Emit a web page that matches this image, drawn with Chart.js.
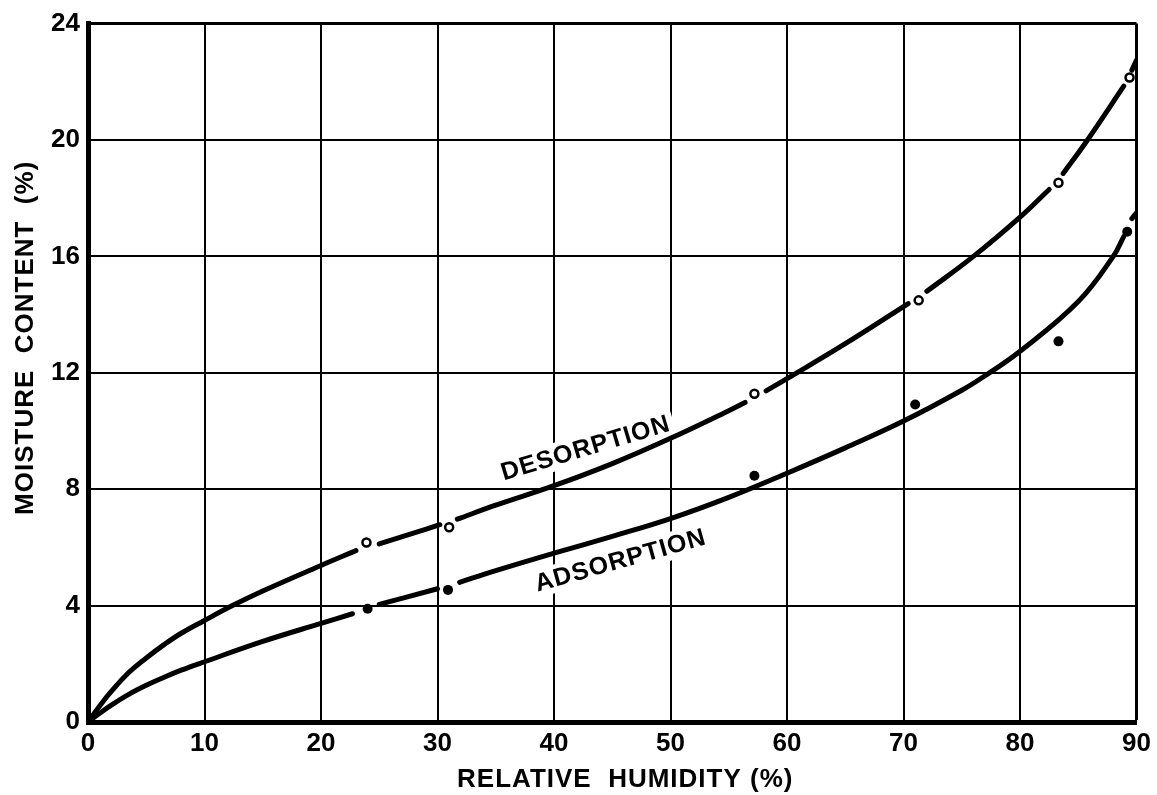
<!DOCTYPE html>
<html>
<head>
<meta charset="utf-8">
<style>
  html, body { margin: 0; padding: 0; background: #fff; }
  canvas { display: block; }
</style>
</head>
<body>
<canvas id="myChart" width="1157" height="795"></canvas>
<script src="https://cdn.jsdelivr.net/npm/chart.js"></script>
<script>
// tick labels
var rhTicks = [0, 10, 20, 30, 40, 50, 60, 70, 80, 90];
var mcTicks = [0, 4, 8, 12, 16, 20, 24];

// measured points (open = desorption, filled = adsorption)
var desorptionRH = [23.9, 31.0, 57.2, 71.3, 83.3, 89.4];
var desorptionMC = [6.17, 6.69, 11.28, 14.49, 18.53, 22.15];
var adsorptionRH = [24.0, 30.9, 57.2, 71.0, 83.3, 89.2];
var adsorptionMC = [3.89, 4.54, 8.46, 10.91, 13.08, 16.85];

// hand drawn curves, null = the pen lifts around a point
var desorptionCurveRH = [0, 1, 2, 3.5, 5, 6.5, 8, 10, 12.4, 15, 20, 23.0, 23.9, 25, 28, 30.2, 31.0, 31.7, 35, 40, 45, 50, 55, 56.4, 57.2, 58.2, 60, 65, 70.4, 71.3, 72, 76, 80, 82.5, 83.3, 83.7, 85.7, 88.9, 89.4, 89.6, 90];
var desorptionCurveMC = [0, 0.55, 1.05, 1.7, 2.2, 2.65, 3.05, 3.49, 4.0, 4.5, 5.38, 5.89, null, 6.12, 6.5, 6.78, null, 6.97, 7.45, 8.12, 8.88, 9.75, 10.7, 10.98, null, 11.38, 11.8, 13.0, 14.38, null, 14.8, 16.0, 17.35, 18.3, null, 18.85, 19.95, 21.85, null, 22.4, 22.75];
var adsorptionCurveRH = [0, 1, 2, 3.5, 5, 6.5, 8, 10, 15, 20, 22.7, 24.0, 25, 30, 30.9, 31.9, 35, 40, 45, 50, 55, 60, 65, 70, 75, 77, 80, 85, 88, 88.9, 89.2, 89.6, 90];
var adsorptionCurveMC = [0, 0.3, 0.58, 0.95, 1.26, 1.53, 1.78, 2.07, 2.77, 3.39, 3.72, null, 4.04, 4.58, null, 4.8, 5.2, 5.8, 6.38, 6.99, 7.72, 8.55, 9.42, 10.34, 11.4, 11.9, 12.74, 14.45, 16.0, 16.68, null, 17.3, 17.5];

function toXY(xs, ys) {
  return xs.map((x, i) => ({ x: x, y: ys[i] }));
}

// cut a curve into pieces at the nulls
function pieces(xs, ys) {
  var out = [];
  var cur = [];
  xs.forEach((x, i) => {
    if (ys[i] === null) {
      if (cur.length) out.push(cur);
      cur = [];
    } else {
      cur.push({ x: x, y: ys[i] });
    }
  });
  if (cur.length) out.push(cur);
  return out;
}

var FONT = "'Liberation Sans', Arial, sans-serif";
Chart.defaults.color = "#000";

var lettering = {
  id: "lettering",
  beforeDatasetsDraw(chart) {
    var ctx = chart.ctx;
    var xs = chart.scales.x, ys = chart.scales.y;
    var labels = [
      { text: "DESORPTION", rh: 42.7, mc: 9.42, angle: -16.6 },
      { text: "ADSORPTION", rh: 45.7, mc: 5.56, angle: -15.7 }
    ];
    ctx.save();
    ctx.font = "bold 25px " + FONT;
    ctx.letterSpacing = "1px";
    labels.forEach((l) => {
      ctx.save();
      ctx.translate(xs.getPixelForValue(l.rh), ys.getPixelForValue(l.mc));
      ctx.rotate(l.angle * Math.PI / 180);
      var w = ctx.measureText(l.text).width;
      ctx.fillStyle = "#fff";
      ctx.fillRect(-w / 2 - 4, -14, w + 8, 28);
      ctx.fillStyle = "#000";
      ctx.textAlign = "center";
      ctx.textBaseline = "middle";
      ctx.fillText(l.text, 0, 1);
      ctx.restore();
    });
    ctx.restore();
  },
  afterDraw(chart) {
    var ctx = chart.ctx;
    var area = chart.chartArea;
    ctx.save();
    ctx.fillStyle = "#000";
    ctx.font = "bold 26px " + FONT;
    ctx.letterSpacing = "1px";
    ctx.textAlign = "center";
    ctx.textBaseline = "middle";
    ctx.fillText("RELATIVE  HUMIDITY (%)", (area.left + area.right) / 2 + 13, 780);
    ctx.translate(26, (area.top + area.bottom) / 2 - 35);
    ctx.rotate(-Math.PI / 2);
    ctx.fillText("MOISTURE  CONTENT  (%)", 0, 0);
    ctx.restore();
  }
};

var edgeWidth = (ctx) => (ctx.index === 0 ? 0 : (ctx.tick && (ctx.tick.value === 90 || ctx.tick.value === 24) ? 3 : 2));

var datasets = [
  {
    label: "Desorption points",
    data: toXY(desorptionRH, desorptionMC),
    pointStyle: "circle",
    pointRadius: 4,
    pointBorderWidth: 2.5,
    pointBackgroundColor: "#fff",
    pointBorderColor: "#000",
    order: 1
  },
  {
    label: "Adsorption points",
    data: toXY(adsorptionRH, adsorptionMC),
    pointStyle: "circle",
    pointRadius: 5,
    pointBorderWidth: 0,
    pointBackgroundColor: "#000",
    order: 1
  }
];

function addCurve(name, xs, ys) {
  pieces(xs, ys).forEach((piece) => {
    datasets.push({
      label: name,
      data: piece,
      showLine: true,
      borderColor: "#000",
      borderWidth: 5,
      borderCapStyle: "round",
      tension: 0.4,
      pointRadius: 0,
      order: 2
    });
  });
}
addCurve("Desorption", desorptionCurveRH, desorptionCurveMC);
addCurve("Adsorption", adsorptionCurveRH, adsorptionCurveMC);

var config = {
  type: "scatter",
  data: { datasets: datasets },
  options: {
    responsive: false,
    animation: false,
    layout: { padding: { top: 21, right: 19, left: 0, bottom: 0 } },
    plugins: {
      legend: { display: false },
      tooltip: { enabled: false }
    },
    scales: {
      x: {
        type: "linear",
        min: 0,
        max: 90,
        afterBuildTicks: (scale) => { scale.ticks = rhTicks.map((v) => ({ value: v })); },
        afterFit: (scale) => { scale.height = 73; },
        grid: { color: "#000", lineWidth: edgeWidth, drawTicks: false },
        border: { display: true, color: "#000", width: 5 },
        ticks: { padding: 6, maxRotation: 0, font: { family: FONT, size: 26, weight: "bold" } }
      },
      y: {
        type: "linear",
        min: 0,
        max: 24,
        afterBuildTicks: (scale) => { scale.ticks = mcTicks.map((v) => ({ value: v })); },
        afterFit: (scale) => { scale.width = 88; },
        grid: { color: "#000", lineWidth: edgeWidth, drawTicks: false },
        border: { display: true, color: "#000", width: 5 },
        ticks: { padding: 8, font: { family: FONT, size: 26, weight: "bold" } }
      }
    }
  },
  plugins: [lettering]
};

const myChart = new Chart(document.getElementById("myChart"), config);
</script>
</body>
</html>
